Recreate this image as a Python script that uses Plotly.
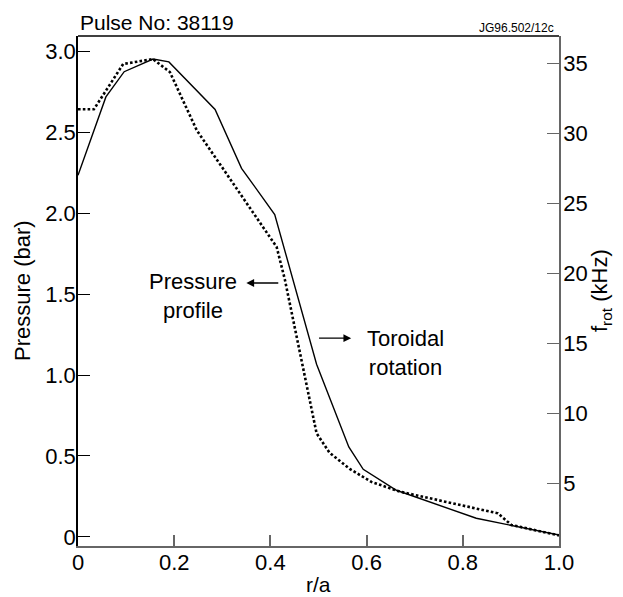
import plotly.graph_objects as go

# Data
x_rot = [0, 0.058, 0.096, 0.156, 0.189, 0.285, 0.340, 0.409, 0.496, 0.563, 0.593, 0.662, 0.828, 0.897, 1.0]
f_rot = [27.0, 32.6, 34.4, 35.3, 35.1, 31.7, 27.5, 24.2, 13.5, 7.6, 6.0, 4.5, 2.5, 2.0, 1.3]

x_p = [0, 0.033, 0.094, 0.156, 0.191, 0.247, 0.413, 0.430, 0.496, 0.523, 0.565, 0.610, 0.669, 0.835, 0.873, 0.901, 1.0]
pressure = [2.64, 2.64, 2.92, 2.95, 2.87, 2.51, 1.79, 1.59, 0.64, 0.52, 0.42, 0.34, 0.28, 0.171, 0.146, 0.074, 0.01]

x_ticks = [0, 0.2, 0.4, 0.6, 0.8, 1.0]
x_ticktext = ["0", "0.2", "0.4", "0.6", "0.8", "1.0"]
p_ticks = [0, 0.5, 1.0, 1.5, 2.0, 2.5, 3.0]
p_ticktext = ["0", "0.5", "1.0", "1.5", "2.0", "2.5", "3.0"]
f_ticks = [5, 10, 15, 20, 25, 30, 35]

FONT = "Liberation Sans, Arial, sans-serif"
GRAY = "#666666"

fig = go.Figure()
fig.add_trace(go.Scatter(x=x_p, y=pressure, mode="lines", yaxis="y",
                         line=dict(color="black", width=2.6, dash="2.6px,2.2px"),
                         showlegend=False))
fig.add_trace(go.Scatter(x=x_rot, y=f_rot, mode="lines", yaxis="y2",
                         line=dict(color="black", width=1.4),
                         showlegend=False))

fig.update_layout(
    width=623, height=597,
    margin=dict(l=78, r=64, t=36, b=51),
    paper_bgcolor="white", plot_bgcolor="white",
    font=dict(family=FONT, size=22, color="black"),
    xaxis=dict(range=[0, 1.0], tickvals=x_ticks, ticktext=x_ticktext,
               ticks="inside", ticklen=11, tickwidth=1.5, tickcolor=GRAY,
               showline=True, linecolor=GRAY, linewidth=1.5,
               showgrid=False, zeroline=False, fixedrange=True,
               ticklabelstandoff=-4,
               tickfont=dict(size=22)),
    yaxis=dict(range=[-0.0556, 3.0926], tickvals=p_ticks, ticktext=p_ticktext,
               ticks="inside", ticklen=12, tickwidth=1.3, tickcolor="black",
               showline=True, linecolor="black", linewidth=1.5,
               showgrid=False, zeroline=False, fixedrange=True,
               ticklabelstandoff=-4,
               tickfont=dict(size=22)),
    yaxis2=dict(range=[0.52, 36.95], tickvals=f_ticks, overlaying="y", side="right",
                ticks="inside", ticklen=12, tickwidth=1.3, tickcolor=GRAY,
                showline=True, linecolor=GRAY, linewidth=1.5,
                showgrid=False, zeroline=False, fixedrange=True,
                ticklabelstandoff=-2,
                tickfont=dict(size=22)),
    shapes=[dict(type="line", xref="paper", yref="paper", x0=0, x1=1, y0=1, y1=1,
                 line=dict(color="black", width=1.5))],
)

def px_x(p):
    return (p - 78) / 481.0

anns = [
    dict(text="Pulse No: 38119", xref="paper", yref="paper", x=0, y=1.0, yshift=14,
         xanchor="left", yanchor="middle", showarrow=False, font=dict(size=21)),
    dict(text="JG96.502/12c", xref="paper", yref="paper", x=0.993, y=1.0, yshift=8,
         xanchor="right", yanchor="middle", showarrow=False, font=dict(size=12)),
    dict(text="Pressure (bar)", xref="paper", yref="paper", x=px_x(22), y=0.5,
         xanchor="center", yanchor="middle", textangle=-90, showarrow=False, font=dict(size=22)),
    dict(text="f<sub>rot</sub> (kHz)", xref="paper", yref="paper", x=px_x(601), y=0.5,
         xanchor="center", yanchor="middle", textangle=-90, showarrow=False, font=dict(size=22)),
    dict(text="r/a", xref="paper", yref="paper", x=0.5, y=0, yshift=-38,
         xanchor="center", yanchor="middle", showarrow=False, font=dict(size=21)),
    dict(text="Pressure<br>profile", xref="x", yref="y", x=0.239, y=1.488,
         xanchor="center", yanchor="middle", showarrow=False, font=dict(size=22)),
    dict(text="Toroidal<br>rotation", xref="x", yref="y", x=0.680, y=1.134,
         xanchor="center", yanchor="middle", showarrow=False, font=dict(size=22)),
    dict(text="", xref="x", yref="y", x=0.350, y=1.568, ax=0.4195, ay=1.568,
         axref="x", ayref="y", showarrow=True, arrowhead=2, arrowsize=1.2,
         arrowwidth=1.3, arrowcolor="black", standoff=0),
    dict(text="", xref="x", yref="y", x=0.568, y=1.227, ax=0.498, ay=1.227,
         axref="x", ayref="y", showarrow=True, arrowhead=2, arrowsize=1.2,
         arrowwidth=1.3, arrowcolor="black", standoff=0),
]
fig.update_layout(annotations=anns)

fig.write_html("out.html")
